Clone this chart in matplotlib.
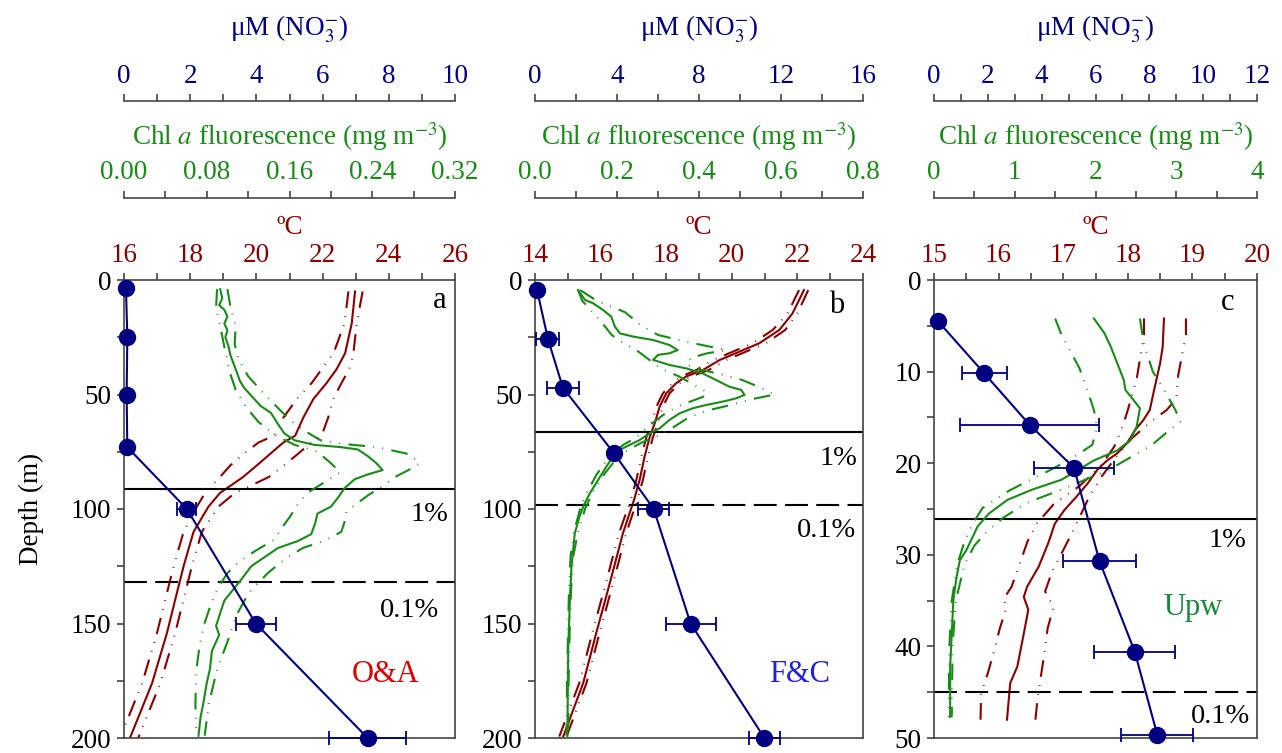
import matplotlib
matplotlib.use('Agg')
import matplotlib.pyplot as plt
from matplotlib.ticker import MultipleLocator, FormatStrFormatter

plt.rcParams['font.family'] = ['Liberation Serif', 'DejaVu Serif']
plt.rcParams['mathtext.fontset'] = 'stix'
plt.rcParams['font.size'] = 19.5

RED = '#8b0000'
GREEN = '#168c16'
NAVY = '#000080'
SPINE = '#444444'
DASHDOT = (0, (8, 4, 0.4, 4, 0.4, 4))
FS = 19.5

# ---------------- panel a (O&A) ----------------
ta_depth = [5, 19, 32, 39, 45, 52, 60, 68, 71, 76, 81, 86, 90, 93, 99, 110, 125, 140, 154, 176, 200]
ta_mean = [22.98, 22.88, 22.68, 22.42, 22.12, 21.72, 21.42, 21.17, 20.81, 20.41, 20.01, 19.6, 19.2, 18.9, 18.55, 18.1, 17.8, 17.54, 17.3, 16.85, 16.18]
ta_lo = [22.78, 22.66, 22.33, 21.97, 21.67, 21.22, 20.82, 20.52, 20.06, 19.61, 19.21, 18.9, 18.65, 18.45, 18.2, 17.8, 17.5, 17.24, 17.0, 16.55, 15.88]
ta_hi = [23.21, 23.03, 22.93, 22.8, 22.57, 22.32, 22.17, 21.97, 21.65, 21.25, 20.83, 20.38, 19.8, 19.35, 18.85, 18.35, 18.05, 17.79, 17.55, 17.1, 16.43]

ca_depth = [4, 8, 11, 13, 16, 19, 22, 25, 29, 33, 39, 44, 47, 51, 55, 58, 63, 67, 70, 72,
            73, 74, 77, 80, 83, 85, 87, 91, 95, 99, 102, 106, 111, 114, 117, 121, 125, 131, 140, 151,
            155, 162, 170, 176, 184, 191, 199]
ca_mean = [0.093, 0.095, 0.092, 0.097, 0.1, 0.097, 0.1, 0.098, 0.101, 0.103, 0.108, 0.112, 0.116, 0.124, 0.132, 0.142, 0.149, 0.155, 0.165, 0.184,
           0.21, 0.226, 0.236, 0.244, 0.25, 0.235, 0.223, 0.213, 0.207, 0.2, 0.187, 0.185, 0.181, 0.168, 0.149, 0.136, 0.123, 0.113, 0.097, 0.089,
           0.092, 0.085, 0.083, 0.08, 0.077, 0.074, 0.072]
ca_lo_depth = [4, 12, 20, 27, 40, 48, 55.5, 62, 68, 72, 75, 80, 84, 88, 93, 98, 103, 108, 113.5, 118,
               122.7, 128, 135, 143, 151, 160, 170, 185, 199]
ca_lo = [0.09, 0.089, 0.093, 0.096, 0.102, 0.108, 0.118, 0.13, 0.147, 0.165, 0.187, 0.2, 0.209, 0.195, 0.177, 0.168, 0.161, 0.153, 0.145, 0.128,
         0.112, 0.1, 0.09, 0.083, 0.077, 0.073, 0.07, 0.069, 0.07]
ca_hi_depth = [4, 12, 20, 28, 35, 42, 49, 55, 61, 66, 70, 71.5, 73, 76, 80, 83, 86, 90, 94, 101,
               106, 110, 114, 117, 122, 128, 137, 147, 158, 170, 185, 199]
ca_hi = [0.1, 0.103, 0.108, 0.107, 0.111, 0.12, 0.134, 0.147, 0.16, 0.175, 0.19, 0.21, 0.245, 0.275, 0.286, 0.275, 0.262, 0.25, 0.236, 0.215,
         0.213, 0.21, 0.193, 0.173, 0.155, 0.139, 0.12, 0.108, 0.1, 0.09, 0.082, 0.078]

na_depth = [3.5, 25, 50, 73, 100, 150, 200]
na_val = [0.06, 0.1, 0.08, 0.1, 1.9, 3.98, 7.36]
na_err = [0, 0, 0, 0, 0.29, 0.6, 1.17]

# ---------------- panel b (F&C) ----------------
tb_depth = [4.4, 14.6, 21.8, 27.6, 31.3, 35, 39.3, 42.2, 45.1, 49.5, 55.3, 62.6, 68.4, 77.2, 87.3, 96, 110.6, 132.4, 154, 176, 199.4]
tb_mean = [22.2, 21.85, 21.45, 20.84, 20.23, 19.62, 19.12, 18.6, 18.3, 18.0, 17.8, 17.65, 17.5, 17.34, 17.19, 17.02, 16.68, 16.28, 15.87, 15.47, 14.86]
tb_lo = [22.05, 21.7, 21.25, 20.64, 20.03, 19.42, 18.92, 18.45, 18.18, 17.9, 17.7, 17.55, 17.4, 17.24, 17.09, 16.92, 16.56, 16.16, 15.75, 15.35, 14.74]
tb_hi = [22.33, 22.0, 21.63, 21.04, 20.43, 19.82, 19.3, 18.75, 18.42, 18.1, 17.9, 17.75, 17.6, 17.44, 17.29, 17.12, 16.78, 16.38, 15.97, 15.57, 14.96]

cb_depth = [4.4, 8.7, 10.2, 13.1, 16, 20.4, 23.3, 24.7, 26.2, 28.4, 30.6, 32, 32.7, 34.9, 37.1, 38.6, 40.8, 43.7, 46.6, 48,
            50.2, 51.7, 53.1, 54.6, 56, 58.2, 61.1, 64.8, 66.9, 69.9, 72, 74.2, 77.2, 81.5, 87.3, 93.1, 98, 103, 110.6, 125,
            139.7, 161.6, 180, 199.4]
cb_mean = [0.105, 0.122, 0.142, 0.166, 0.186, 0.195, 0.207, 0.239, 0.288, 0.328, 0.348, 0.328, 0.3, 0.288, 0.328, 0.369, 0.409, 0.442, 0.474, 0.503,
           0.511, 0.49, 0.458, 0.417, 0.385, 0.353, 0.328, 0.304, 0.28, 0.255, 0.231, 0.207, 0.19, 0.174, 0.154, 0.134, 0.12, 0.109, 0.097, 0.089,
           0.085, 0.081, 0.08, 0.079]
cb_lo_depth = [4.4, 9, 14, 19, 24, 28, 31, 35, 39, 42, 46, 49, 51, 53, 55, 58.5, 62, 65, 69, 72,
               76, 80, 85, 90, 95, 100, 110, 120, 135, 150, 175, 199]
cb_lo = [0.105, 0.115, 0.14, 0.165, 0.187, 0.22, 0.25, 0.28, 0.31, 0.35, 0.39, 0.42, 0.41, 0.38, 0.35, 0.316, 0.29, 0.27, 0.245, 0.215,
         0.19, 0.17, 0.15, 0.135, 0.12, 0.11, 0.095, 0.087, 0.083, 0.081, 0.078, 0.077]
cb_hi_depth = [4.4, 9, 14, 20, 24, 27, 30.6, 32, 34, 37, 39, 41, 43.7, 47, 50, 52, 54.6, 57, 60, 64,
               67.6, 71, 75.5, 80, 84.5, 92.6, 100, 110, 120, 135, 150, 175, 199]
cb_hi = [0.11, 0.15, 0.219, 0.26, 0.3, 0.37, 0.467, 0.42, 0.38, 0.37, 0.40, 0.45, 0.506, 0.55, 0.585, 0.53, 0.477, 0.42, 0.375, 0.34,
         0.306, 0.26, 0.214, 0.19, 0.17, 0.141, 0.122, 0.105, 0.094, 0.088, 0.085, 0.082, 0.081]

nb_depth = [4.4, 25.7, 47, 75.5, 100, 150, 200]
nb_val = [0.1, 0.63, 1.36, 3.84, 5.79, 7.59, 11.19]
nb_err = [0, 0.56, 0.78, 0, 0.75, 1.22, 0.75]

# ---------------- panel c (Upw) ----------------
tc_depth = [4.2, 7.3, 9.1, 11.6, 14.2, 15.3, 16.4, 17.8, 18.9, 19.7, 20.7, 22.2, 23.7, 25.1, 26.6, 28.7, 31.3, 33.5, 34.6, 36, 38.6, 42.2, 44, 48]
tc_mean = [18.56, 18.54, 18.5, 18.42, 18.34, 18.24, 18.11, 17.99, 17.84, 17.68, 17.53, 17.38, 17.2, 17.02, 16.87, 16.77, 16.62, 16.44, 16.39, 16.46, 16.39, 16.29, 16.18, 16.13]
tc_lo_depth = [4.2, 6, 10.7, 14.2, 16, 18.2, 20.3, 22.5, 24.5, 26.6, 28.5, 31.3, 33.5, 34.8, 35.8, 38, 40.5, 43, 45.1, 48]
tc_lo = [18.25, 18.25, 18.14, 18.0, 17.92, 17.79, 17.58, 17.25, 16.85, 16.59, 16.45, 16.31, 16.2, 16.08, 16.12, 16.02, 15.93, 15.83, 15.73, 15.72]
tc_hi_depth = [4.2, 6, 10.4, 13, 14.2, 15.5, 17.3, 19, 21.6, 24, 27, 29.5, 31.8, 34, 35.7, 38, 40.7, 43, 45.9, 48]
tc_hi = [18.9, 18.9, 18.78, 18.75, 18.6, 18.35, 18.06, 17.85, 17.58, 17.38, 17.18, 17.0, 16.83, 16.72, 16.85, 16.76, 16.71, 16.66, 16.6, 16.57]

cc_depth = [4.2, 5.8, 7.3, 9.1, 10.9, 12, 13.1, 14, 16, 17.5, 18.6, 19.7, 21.8, 22.9, 24, 25.5, 26.9, 28.4, 29.5, 30.6,
            32.4, 34.9, 38.6, 42.2, 47.7]
cc_mean = [1.98, 2.11, 2.19, 2.27, 2.35, 2.37, 2.47, 2.55, 2.51, 2.43, 2.27, 1.98, 1.58, 1.21, 0.91, 0.68, 0.54, 0.46, 0.4, 0.32,
           0.28, 0.24, 0.22, 0.2, 0.2]
cc_lo_depth = [4.2, 6, 9.6, 12, 14.2, 16, 18, 19.5, 20.7, 22, 23, 24.9, 26.6, 28.5, 31, 35, 40, 47.7]
cc_lo = [1.5, 1.58, 1.8, 1.9, 1.98, 2.02, 1.96, 1.7, 1.45, 1.15, 0.93, 0.6, 0.48, 0.38, 0.29, 0.22, 0.19, 0.18]
cc_hi_depth = [4.2, 7, 10, 12, 14.2, 15.5, 16.5, 18, 20.7, 22.7, 24.4, 26, 27.5, 29, 31, 35, 40, 47.7]
cc_hi = [2.55, 2.6, 2.71, 2.85, 2.99, 3.05, 2.9, 2.7, 2.17, 1.63, 1.13, 0.85, 0.65, 0.5, 0.38, 0.27, 0.23, 0.22]

nc_depth = [4.5, 10.2, 15.8, 20.5, 30.7, 40.6, 49.7]
nc_val = [0.15, 1.87, 3.55, 5.2, 6.15, 7.46, 8.3]
nc_err = [0, 0.84, 2.58, 1.5, 1.35, 1.5, 1.34]


def style_top(ax, color, major, minor, fmt):
    ax.xaxis.set_major_locator(MultipleLocator(major))
    ax.xaxis.set_minor_locator(MultipleLocator(minor))
    ax.xaxis.set_major_formatter(FormatStrFormatter(fmt))
    ax.xaxis.set_label_position('top')
    ax.tick_params(axis='x', which='both', top=True, bottom=False, labeltop=True,
                   labelbottom=False, direction='out', length=5, width=1.2,
                   color=SPINE, labelcolor=color, labelsize=FS, pad=4)


def panel(rect, dmax, dmajor, dminor, tlim, tmaj, tmin, tfmt, temp, clim, cmaj, cmin, cfmt, chl,
          nlim, nmaj, nmin, no3, lines, letter, name, name_color, name_pos, pct_pos, ylabel=False):
    ax = fig.add_axes(rect)
    ax.set_ylim(dmax, 0)
    ax.set_xlim(tlim)
    ax.yaxis.set_major_locator(MultipleLocator(dmajor))
    ax.yaxis.set_minor_locator(MultipleLocator(dminor))
    ax.tick_params(axis='y', which='both', left=True, right=False, direction='out',
                   length=5, width=1.2, color=SPINE, labelsize=FS, pad=4)
    for s in ax.spines.values():
        s.set_color(SPINE)
        s.set_linewidth(1.2)
    if ylabel:
        ax.set_ylabel('Depth (m)', fontsize=FS, labelpad=19)

    d, m, dlo, lo, dhi, hi = temp
    ax.plot(m, d, color=RED, lw=1.5)
    ax.plot(lo, dlo, color=RED, lw=1.5, linestyle=DASHDOT)
    ax.plot(hi, dhi, color=RED, lw=1.5, linestyle=DASHDOT)

    ax.axhline(lines[0], color='black', lw=1.5)
    ax.axhline(lines[1], color='black', lw=1.5, linestyle=(0, (11, 4)))
    ax.text(pct_pos[0][0], pct_pos[0][1], '1%', transform=ax.transAxes, ha='center', va='center', fontsize=20.5)
    ax.text(pct_pos[1][0], pct_pos[1][1], '0.1%', transform=ax.transAxes, ha='center', va='center', fontsize=20.5)
    ax.text(letter[1], letter[2], letter[0], transform=ax.transAxes, ha='center', va='center', fontsize=22)
    ax.text(name_pos[0], name_pos[1], name, transform=ax.transAxes, ha='center', va='center',
            fontsize=22, color=name_color)

    # chlorophyll axis
    axc = ax.twiny()
    axc.set_xlim(clim)
    axc.spines['top'].set_position(('axes', 1.18))
    for s in ['left', 'right', 'bottom']:
        axc.spines[s].set_visible(False)
    axc.spines['top'].set_color(SPINE)
    axc.spines['top'].set_linewidth(1.2)
    style_top(axc, GREEN, cmaj, cmin, cfmt)
    axc.set_xlabel('Chl $a$ fluorescence (mg m$^{-3}$)', color=GREEN, fontsize=FS, labelpad=11)
    d, m, dlo, lo, dhi, hi = chl
    axc.plot(m, d, color=GREEN, lw=1.5)
    axc.plot(lo, dlo, color=GREEN, lw=1.5, linestyle=DASHDOT)
    axc.plot(hi, dhi, color=GREEN, lw=1.5, linestyle=DASHDOT)

    # nitrate axis
    axn = ax.twiny()
    axn.set_xlim(nlim)
    axn.spines['top'].set_position(('axes', 1.39))
    for s in ['left', 'right', 'bottom']:
        axn.spines[s].set_visible(False)
    axn.spines['top'].set_color(SPINE)
    axn.spines['top'].set_linewidth(1.2)
    style_top(axn, NAVY, nmaj, nmin, '%d')
    axn.set_xlabel('μM (NO$_3^{-}$)', color=NAVY, fontsize=FS, labelpad=20)
    d, v, e = no3
    axn.errorbar(v, d, xerr=e, color=NAVY, lw=1.5, marker='o', ms=11.5, capsize=5,
                 elinewidth=1.3, capthick=1.3, clip_on=False, zorder=5)
    axn.set_ylim(dmax, 0)

    # temperature axis on top of the main box (twiny moves it to the bottom)
    style_top(ax, RED, tmaj, tmin, tfmt)
    ax.set_xlabel('ºC', color=RED, fontsize=FS, labelpad=6)


fig = plt.figure(figsize=(12.82, 7.53), dpi=100)
H = 458 / 753
B = 15 / 753

panel([124 / 1282, B, 331 / 1282, H], 200, 50, 25, (16, 26), 2, 1, '%d',
      (ta_depth, ta_mean, ta_depth, ta_lo, ta_depth, ta_hi),
      (0, 0.32), 0.08, 0.04, '%.2f',
      (ca_depth, ca_mean, ca_lo_depth, ca_lo, ca_hi_depth, ca_hi),
      (0, 10), 2, 1, (na_depth, na_val, na_err),
      (91.3, 131.9), ('a', 0.955, 0.956), 'O&A', '#dd0000', (0.79, 0.138),
      ((0.924, 0.487), (0.864, 0.279)), ylabel=True)

panel([535 / 1282, B, 328 / 1282, H], 200, 50, 25, (14, 24), 2, 1, '%d',
      (tb_depth, tb_mean, tb_depth, tb_lo, tb_depth, tb_hi),
      (0, 0.8), 0.2, 0.1, '%.1f',
      (cb_depth, cb_mean, cb_lo_depth, cb_lo, cb_hi_depth, cb_hi),
      (0, 16), 4, 2, (nb_depth, nb_val, nb_err),
      (66.4, 98.3), ('b', 0.92, 0.945), 'F&C', '#1f1fe0', (0.808, 0.138),
      ((0.924, 0.611), (0.89, 0.454)))

panel([934 / 1282, B, 323 / 1282, H], 50, 10, 5, (15, 20), 1, 0.5, '%d',
      (tc_depth, tc_mean, tc_lo_depth, tc_lo, tc_hi_depth, tc_hi),
      (0, 4), 1, 0.5, '%d',
      (cc_depth, cc_mean, cc_lo_depth, cc_lo, cc_hi_depth, cc_hi),
      (0, 12), 2, 1, (nc_depth, nc_val, nc_err),
      (26.1, 45.0), ('c', 0.91, 0.95), 'Upw', '#17893a', (0.802, 0.286),
      ((0.91, 0.432), (0.886, 0.046)))

fig.savefig('out.png', dpi=100)
